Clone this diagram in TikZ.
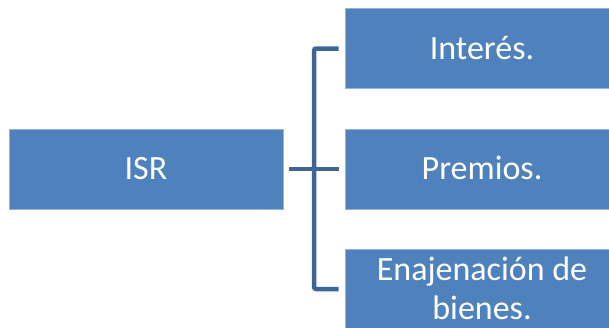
\documentclass[tikz,border=0pt]{standalone}
\usepackage{fontspec}
\setmainfont{Carlito}
\definecolor{boxblue}{HTML}{4F81BD}
\definecolor{linkblue}{HTML}{3F6597}
\begin{document}
\begin{tikzpicture}[x=1pt,y=-1pt,
  itembox/.style={fill=boxblue,draw=boxblue!60!white,line width=0.8pt,text=white,
    minimum width=274pt,minimum height=80pt,align=center,inner sep=2pt,
    text height=21.9pt,text depth=0pt,
    font=\fontsize{34}{39}\selectfont},
  link/.style={draw=linkblue,line width=4.5pt,rounded corners=2pt}]
\useasboundingbox (0,0) rectangle (609,327);
\node[itembox] (isr) at (146,169) {ISR};
\node[itembox] (b1) at (482,48.5) {Interés.};
\node[itembox] (b2) at (482,169) {Premios.};
\node[itembox,text height=60.9pt] (b3) at (482,289) {Enajenación de\\bienes.};
% central stem from ISR to the bracket
\draw[link] ([xshift=6pt]isr.east) -- ([xshift=-6pt]b2.west);
% bracket reaching the first and last items
\draw[link] ([xshift=-6pt]b1.west) -- ++(-24.5,0) |- ([xshift=-6pt]b3.west);
\end{tikzpicture}
\end{document}
